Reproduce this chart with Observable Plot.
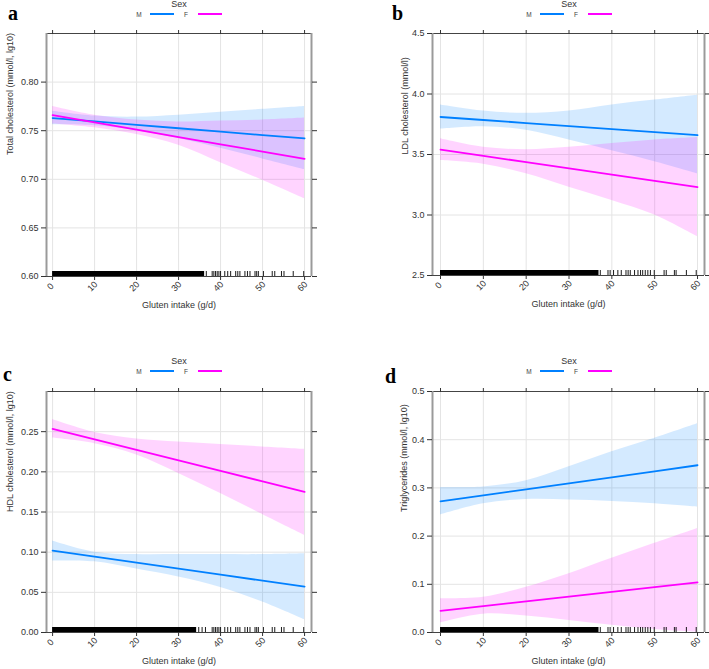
<!DOCTYPE html>
<html><head><meta charset="utf-8">
<script src="https://cdn.jsdelivr.net/npm/d3@7"></script>
<script src="https://cdn.jsdelivr.net/npm/@observablehq/plot@0.6"></script>
<style>
body{margin:0;background:#fff;font-family:"Liberation Sans",Arial,sans-serif;}
#root{position:relative;width:709px;height:669px;overflow:hidden;background:#fff;}
.abs{position:absolute;}
.letter{font-family:"Liberation Serif","Times New Roman",serif;font-weight:bold;font-size:20px;line-height:1;color:#000;}
.sex{font-size:9px;color:#333;transform:translateX(-50%);line-height:1;}
.key{font-size:6.5px;color:#444;line-height:1;transform:translateX(-50%);}
.swatch{height:2px;width:24px;}
</style></head><body><div id="root"></div>
<script>
// ---------- shared ----------
const gluten = [0, 10, 20, 30, 40, 50, 60];
const xTicks = [0, 10, 20, 30, 40, 50, 60];
const sexes = ["M", "F"];
const sexColors = ["#0080ff", "#ff00ff"];
const xLabel = "Gluten intake (g/d)";

// ---------- a: total cholesterol ----------
const tcLabel = "Total cholesterol (mmol/l, lg10)";
const tcFitM = [0.7630, 0.7595, 0.7560, 0.7525, 0.7490, 0.7455, 0.7420];
const tcLoM  = [0.756, 0.755, 0.750, 0.742, 0.732, 0.721, 0.710];
const tcHiM  = [0.770, 0.765, 0.764, 0.766, 0.769, 0.772, 0.775];
const tcFitF = [0.7660, 0.7585, 0.7510, 0.7435, 0.7360, 0.7285, 0.7210];
const tcLoF  = [0.757, 0.753, 0.746, 0.735, 0.717, 0.699, 0.680];
const tcHiF  = [0.775, 0.766, 0.761, 0.759, 0.760, 0.761, 0.763];
const tcTicks = [0.60, 0.65, 0.70, 0.75, 0.80];
const tcDomain = [0.60, 0.85];
const tcRugSpan = [0, 36.2];
const tcRug = [36.6, 38.0, 38.4, 38.8, 39.2, 39.6, 40.0, 41.0, 41.7, 42.4, 43.6, 44.1, 44.6, 45.8, 46.4, 47.0, 48.2, 48.6, 49.0, 50.2, 52.3, 52.9, 54.5, 55.1, 57.3, 59.8];

// ---------- b: LDL cholesterol ----------
const ldlLabel = "LDL cholesterol (mmol/l)";
const ldlFitM = [3.810, 3.785, 3.760, 3.735, 3.710, 3.685, 3.660];
const ldlLoM  = [3.71, 3.73, 3.70, 3.62, 3.53, 3.44, 3.34];
const ldlHiM  = [3.91, 3.86, 3.84, 3.86, 3.91, 3.95, 3.99];
const ldlFitF = [3.540, 3.488, 3.437, 3.385, 3.333, 3.282, 3.230];
const ldlLoF  = [3.45, 3.42, 3.34, 3.23, 3.12, 3.00, 2.82];
const ldlHiF  = [3.63, 3.56, 3.54, 3.56, 3.59, 3.62, 3.64];
const ldlTicks = [2.5, 3.0, 3.5, 4.0, 4.5];
const ldlDomain = [2.5, 4.5];
const ldlRugSpan = [0, 37.0];
const ldlRug = [37.3, 39.1, 39.6, 40.4, 41.4, 42.2, 43.3, 43.8, 44.3, 45.3, 46.1, 46.7, 47.2, 47.8, 48.4, 49.0, 49.9, 52.2, 52.7, 54.6, 55.0, 57.4, 59.7];

// ---------- c: HDL cholesterol ----------
const hdlLabel = "HDL cholesterol (mmol/l, lg10)";
const hdlFitM = [0.1020, 0.0945, 0.0870, 0.0795, 0.0720, 0.0645, 0.0570];
const hdlLoM  = [0.089, 0.088, 0.079, 0.069, 0.056, 0.038, 0.016];
const hdlHiM  = [0.114, 0.100, 0.097, 0.097, 0.097, 0.097, 0.098];
const hdlFitF = [0.2535, 0.2404, 0.2273, 0.2143, 0.2012, 0.1881, 0.1750];
const hdlLoF  = [0.242, 0.235, 0.221, 0.198, 0.173, 0.147, 0.121];
const hdlHiF  = [0.265, 0.249, 0.241, 0.237, 0.234, 0.231, 0.228];
const hdlTicks = [0.00, 0.05, 0.10, 0.15, 0.20, 0.25];
const hdlDomain = [0, 0.30];
const hdlRugSpan = [0, 34.3];
const hdlRug = [34.8, 35.6, 36.4, 38.0, 38.4, 38.8, 39.2, 39.6, 40.0, 41.0, 41.7, 42.4, 43.6, 44.1, 44.6, 45.8, 46.4, 47.0, 48.2, 48.6, 49.0, 50.2, 52.3, 52.9, 54.5, 55.1, 57.3, 59.8];

// ---------- d: triglycerides ----------
const tgLabel = "Triglycerides (mmol/l, lg10)";
const tgFitM = [0.2720, 0.2845, 0.2970, 0.3095, 0.3220, 0.3345, 0.3470];
const tgLoM  = [0.244, 0.267, 0.276, 0.275, 0.272, 0.267, 0.260];
const tgHiM  = [0.301, 0.302, 0.315, 0.344, 0.375, 0.403, 0.433];
const tgFitF = [0.0450, 0.0548, 0.0647, 0.0745, 0.0843, 0.0942, 0.1040];
const tgLoF  = [0.020, 0.038, 0.034, 0.025, 0.015, 0.006, 0.000];
const tgHiF  = [0.070, 0.073, 0.094, 0.122, 0.154, 0.185, 0.216];
const tgTicks = [0.0, 0.1, 0.2, 0.3, 0.4, 0.5];
const tgDomain = [0, 0.5];
const tgRugSpan = [0, 37.0];
const tgRug = [37.3, 39.1, 39.6, 40.4, 41.4, 42.2, 43.3, 43.8, 44.3, 45.3, 46.1, 46.7, 47.2, 47.8, 48.4, 49.0, 49.9, 52.2, 52.7, 54.6, 55.0, 57.4, 59.7];

// ---------- layout ----------
const panels = [
  {letter:"a", left:0, top:20, width:354, height:300, mL:46, mR:43, mT:13, mB:44, xDomain:[-1.45,61.65],
   yLabel:tcLabel, yDx:-36, fmt:".2f", fits:[tcFitM,tcFitF], los:[tcLoM,tcLoF], his:[tcHiM,tcHiF],
   yTicks:tcTicks, yDomain:tcDomain, rugSpan:tcRugSpan, rug:tcRug, lx:8, ly:3, cx:179, sy:0},
  {letter:"b", left:354, top:20, width:355, height:300, mL:78, mR:5, mT:13, mB:45, xDomain:[-1.87,61.63],
   yLabel:ldlLabel, yDx:-27, fmt:".1f", fits:[ldlFitM,ldlFitF], los:[ldlLoM,ldlLoF], his:[ldlHiM,ldlHiF],
   yTicks:ldlTicks, yDomain:ldlDomain, rugSpan:ldlRugSpan, rug:ldlRug, lx:392, ly:3, cx:569, sy:0},
  {letter:"c", left:0, top:377, width:354, height:292, mL:46, mR:43, mT:14, mB:37, xDomain:[-1.45,61.65],
   yLabel:hdlLabel, yDx:-36, fmt:".2f", fits:[hdlFitM,hdlFitF], los:[hdlLoM,hdlLoF], his:[hdlHiM,hdlHiF],
   yTicks:hdlTicks, yDomain:hdlDomain, rugSpan:hdlRugSpan, rug:hdlRug, lx:3, ly:364, cx:179, sy:357},
  {letter:"d", left:354, top:377, width:355, height:292, mL:78, mR:5, mT:14, mB:37, xDomain:[-1.87,61.63],
   yLabel:tgLabel, yDx:-28, fmt:".1f", fits:[tgFitM,tgFitF], los:[tgLoM,tgLoF], his:[tgHiM,tgHiF],
   yTicks:tgTicks, yDomain:tgDomain, rugSpan:tgRugSpan, rug:tgRug, lx:385, ly:366, cx:569, sy:357}
];

const root = document.getElementById("root");
function el(cls, css, text) {
  const d = document.createElement("div");
  d.className = "abs " + cls;
  Object.assign(d.style, css);
  if (text != null) d.textContent = text;
  root.appendChild(d);
  return d;
}

for (const p of panels) {
  const frameH = p.height - p.mT - p.mB;
  const rows = [];
  sexes.forEach((s, k) => gluten.forEach((g, i) =>
    rows.push({g, sex: s, fit: p.fits[k][i], lo: p.los[k][i], hi: p.his[k][i]})));
  const fmt = d3.format(p.fmt);
  const svg = Plot.plot({
    width: p.width, height: p.height,
    marginLeft: p.mL, marginRight: p.mR, marginTop: p.mT, marginBottom: p.mB,
    x: {domain: p.xDomain},
    y: {domain: p.yDomain},
    color: {domain: sexes, range: sexColors},
    style: {fontFamily: "'Liberation Sans', Arial, sans-serif", fontSize: "9px", color: "#333", background: "transparent", overflow: "visible"},
    marks: [
      Plot.ruleX(xTicks, {stroke: "#e4e4e4"}),
      Plot.ruleY(p.yTicks, {stroke: "#e4e4e4"}),
      Plot.areaY(rows, {x: "g", y1: "lo", y2: "hi", z: "sex", fill: "sex", fillOpacity: 0.17, curve: "catmull-rom", clip: true}),
      Plot.line(rows, {x: "g", y: "fit", z: "sex", stroke: "sex", strokeWidth: 1.8}),
      Plot.rect([p.rugSpan], {x1: d => d[0], x2: d => d[1], fill: "black", insetTop: frameH - 5}),
      Plot.ruleX(p.rug, {stroke: "black", strokeWidth: 0.9, insetTop: frameH - 5}),
      Plot.ruleY(p.yDomain, {stroke: "#444"}),
      Plot.ruleX(p.xDomain, {stroke: "#9a9a9a", strokeWidth: 2}),
      Plot.axisY(p.yTicks, {anchor: "left", tickSize: 5, tickPadding: 3, tickFormat: fmt, label: null, stroke: "#333"}),
      Plot.axisY(p.yTicks, {anchor: "right", tickSize: 5, tickFormat: () => "", label: null, stroke: "#333"}),
      Plot.axisX(xTicks, {anchor: "top", tickSize: 4, tickFormat: () => "", label: null, stroke: "#333"}),
      Plot.axisX(xTicks, {anchor: "bottom", tickSize: 4, tickFormat: () => "", label: null, stroke: "#333"}),
      Plot.text(xTicks, {x: d => d, frameAnchor: "bottom", dy: 12, rotate: -45, text: d => String(d), fill: "#333"}),
      Plot.text([xLabel], {frameAnchor: "bottom", dy: 31, text: d => d, fill: "#333"}),
      Plot.text([p.yLabel], {frameAnchor: "left", rotate: -90, dx: p.yDx, text: d => d, fill: "#333"})
    ]
  });
  const holder = el("", {left: p.left + "px", top: p.top + "px"});
  holder.appendChild(svg);

  // panel letter
  el("letter", {left: p.lx + "px", top: p.ly + "px"}, p.letter);
  // legend
  el("sex", {left: p.cx + "px", top: (p.sy + 0) + "px"}, "Sex");
  el("key", {left: (p.cx - 40) + "px", top: (p.sy + 12) + "px"}, sexes[0]);
  el("swatch", {left: (p.cx - 29) + "px", top: (p.sy + 13) + "px", background: sexColors[0]});
  el("key", {left: (p.cx + 7) + "px", top: (p.sy + 12) + "px"}, sexes[1]);
  el("swatch", {left: (p.cx + 19) + "px", top: (p.sy + 13) + "px", background: sexColors[1]});
}
</script></body></html>
